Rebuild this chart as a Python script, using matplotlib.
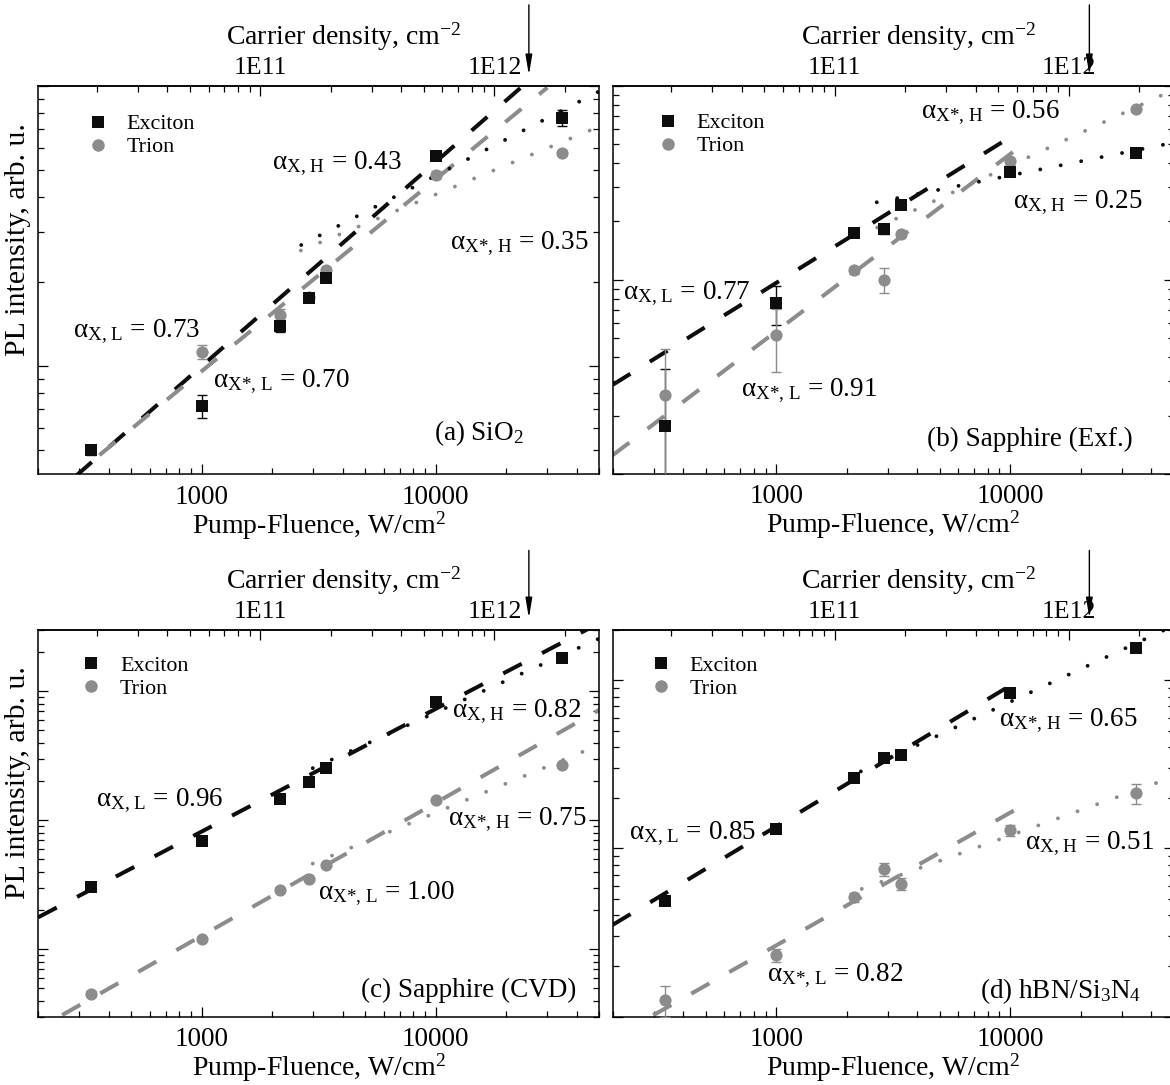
import numpy as np
import matplotlib
matplotlib.use("Agg")
import matplotlib.pyplot as plt
from matplotlib.ticker import FixedLocator, FixedFormatter, LogLocator, NullFormatter
from matplotlib.lines import Line2D

plt.rcParams.update({
    'font.family': ['Liberation Serif', 'DejaVu Serif'],
    'mathtext.fontset': 'custom',
    'mathtext.rm': 'Liberation Serif',
    'mathtext.it': 'Liberation Serif:italic',
    'mathtext.bf': 'Liberation Serif:bold',
    'lines.scale_dashes': False,
    'axes.linewidth': 1.1,
})

# ---------------- data ----------------
fluence = [335, 1000, 2150, 2880, 3400, 10000, 34500]   # W/cm^2

# (a) SiO2
a_exciton = [0.50, 0.72, 1.39, 1.74, 2.05, 5.61, 7.66]
a_exciton_err = [0.02, 0.07, 0.07, 0.05, 0.05, 0.10, 0.50]
a_trion = [np.nan, 1.12, 1.52, 1.76, 2.20, 4.80, 5.75]
a_trion_err = [0.0, 0.065, 0.07, 0.05, 0.05, 0.15, 0.15]
# fit lines: exciton low, trion low, exciton high, trion high  -> ([F0, F1], [I0, I1])
a_fits = [([290, 23600], [0.405, 10.0]),
          ([365, 30000], [0.48, 9.85]),
          ([2660, 50000], [2.70, 9.55]),
          ([2650, 50000], [2.58, 7.15])]

# (b) Sapphire (Exf.)
b_exciton = [0.176, 0.76, 1.74, 1.83, 2.42, 3.60, 4.51]
b_exciton_err = [0.17, 0.175, 0.03, 0.10, 0.05, 0.10, 0.10]
b_trion = [0.256, 0.52, 1.12, 1.00, 1.72, 4.07, 7.60]
b_trion_err = [0.185, 0.185, 0.05, 0.147, 0.05, 0.15, 0.20]
b_fits = [([200, 10860], [0.288, 5.78]),
          ([200, 10860], [0.125, 4.79]),
          ([2690, 50000], [2.51, 5.09]),
          ([2700, 50000], [1.86, 9.54])]

# (c) Sapphire (CVD)
c_exciton = [0.305, 0.69, 1.47, 1.98, 2.53, 8.20, 18.1]
c_exciton_err = [0.01, 0.02, 0.04, 0.05, 0.06, 0.2, 0.4]
c_trion = [0.0453, 0.120, 0.290, 0.349, 0.447, 1.43, 2.66]
c_trion_err = [0.002, 0.004, 0.008, 0.01, 0.012, 0.05, 0.08]
c_fits = [([200, 45000], [0.177, 30.5]),
          ([253, 50000], [0.0309, 7.16]),
          ([2980, 50000], [2.53, 25.6]),
          ([2980, 50000], [0.461, 3.83])]

# (d) hBN/Si3N4
d_exciton = [0.484, 1.31, 2.63, 3.45, 3.57, 8.44, 15.6]
d_exciton_err = [0.01, 0.03, 0.05, 0.07, 0.07, 0.2, 0.3]
d_trion = [0.126, 0.232, 0.513, 0.754, 0.619, 1.28, 2.13]
d_trion_err = [0.027, 0.02, 0.03, 0.07, 0.05, 0.10, 0.30]
d_fits = [([200, 10860], [0.3516, 9.95]),
          ([298, 10860], [0.102, 1.743]),
          ([2300, 50000], [2.87, 21.1]),
          ([2320, 50000], [0.575, 2.67])]

density_ticks = [1e11, 1e12]
density_tick_labels = ['1E11', '1E12']
fluence_ticks = [1000, 10000]
fluence_tick_labels = ['1000', '10000']
fluence_at_1e11 = 1780.0   # W/cm^2 that corresponds to 1E11 cm^-2

a_labels = [r'α$_{\mathrm{X,\,H}}$ = 0.43', r'α$_{\mathrm{X}\text{*, H}}$ = 0.35',
            r'α$_{\mathrm{X,\,L}}$ = 0.73', r'α$_{\mathrm{X}\text{*, L}}$ = 0.70']
b_labels = [r'α$_{\mathrm{X}\text{*, H}}$ = 0.56', r'α$_{\mathrm{X,\,H}}$ = 0.25',
            r'α$_{\mathrm{X,\,L}}$ = 0.77', r'α$_{\mathrm{X}\text{*, L}}$ = 0.91']
c_labels = [r'α$_{\mathrm{X,\,H}}$ = 0.82', r'α$_{\mathrm{X,\,L}}$ = 0.96',
            r'α$_{\mathrm{X}\text{*, H}}$ = 0.75', r'α$_{\mathrm{X}\text{*, L}}$ = 1.00']
d_labels = [r'α$_{\mathrm{X}\text{*, H}}$ = 0.65', r'α$_{\mathrm{X,\,L}}$ = 0.85',
            r'α$_{\mathrm{X,\,H}}$ = 0.51', r'α$_{\mathrm{X}\text{*, L}}$ = 0.82']
panel_names = ['(a) SiO$_2$', '(b) Sapphire (Exf.)', '(c) Sapphire (CVD)',
               '(d) hBN/Si$_3$N$_4$']
arrow_fluence = [25000, 21800, 25000, 21800]

# ---------------- figure ----------------
W, H = 1170, 1085
fig = plt.figure(figsize=(W / 100, H / 100), dpi=100)
BLACK = '#0d0d0d'
GREY = '#8c8c8c'
FS = 19.5


def add_axes_px(l, t, w, h):
    return fig.add_axes([l / W, 1 - (t + h) / H, w / W, h / H])


def f2n(F):
    return np.asarray(F, dtype=float) * (1e11 / fluence_at_1e11)


def n2f(n):
    return np.asarray(n, dtype=float) * (fluence_at_1e11 / 1e11)


def draw_panel(rect, ylim, ex, ex_err, tr, tr_err, fits, labels, label_pos,
               name, name_pos, leg_anchor, arrow_F, arrow_y, ylabel):
    ax = add_axes_px(*rect)
    ax.set_xscale('log')
    ax.set_yscale('log')
    ax.set_xlim(200, 50000)
    ax.set_ylim(*ylim)

    styles = [dict(color=BLACK, lw=2.9, ls=(0, (15, 16.5)), dash_capstyle='butt'),
              dict(color=GREY, lw=2.9, ls=(0, (15, 16.5)), dash_capstyle='butt'),
              dict(color=BLACK, lw=2.8, ls=(0, (0.01, 15)), dash_capstyle='round'),
              dict(color=GREY, lw=2.8, ls=(0, (0.01, 15)), dash_capstyle='round')]
    for (fx, fy), st in zip(fits, styles):
        ax.plot(fx, fy, zorder=2, **st)

    ax.errorbar(fluence, ex, yerr=ex_err, fmt='none', ecolor=BLACK,
                elinewidth=1.0, capsize=3.5, capthick=1.0, zorder=3)
    ax.errorbar(fluence, tr, yerr=tr_err, fmt='none', ecolor=GREY,
                elinewidth=1.0, capsize=3.5, capthick=1.0, zorder=3.5)
    ax.plot(fluence, tr, 'o', color=GREY, ms=8.8, mew=0, zorder=4)
    ax.plot(fluence, ex, 's', color=BLACK, ms=8.0, mew=0, zorder=5)

    # ticks
    ax.xaxis.set_major_locator(FixedLocator(fluence_ticks))
    ax.xaxis.set_major_formatter(FixedFormatter(fluence_tick_labels))
    ax.xaxis.set_minor_locator(LogLocator(base=10, subs=np.arange(2, 10), numticks=20))
    ax.xaxis.set_minor_formatter(NullFormatter())
    ax.yaxis.set_major_locator(LogLocator(base=10, numticks=20))
    ax.yaxis.set_minor_locator(LogLocator(base=10, subs=np.arange(2, 10), numticks=20))
    ax.yaxis.set_major_formatter(NullFormatter())
    ax.yaxis.set_minor_formatter(NullFormatter())
    ax.tick_params(which='both', direction='in', top=False, right=True,
                   left=True, bottom=True, width=0.9, labelsize=FS, pad=7.5)
    ax.tick_params(which='major', length=7)
    ax.tick_params(which='minor', length=4.5)

    ax.set_xlabel('Pump-Fluence, W/cm$^2$', fontsize=FS + 0.5)
    ax.xaxis.set_label_coords(0.5, -51 / rect[3])
    ax.xaxis.label.set_va('center')

    if ylabel:
        ax.set_ylabel('PL intensity, arb. u.', fontsize=FS + 2)
        ax.yaxis.set_label_coords(-0.0357, 0.605)
        ax.yaxis.label.set_va('center')

    sec = ax.secondary_xaxis('top', functions=(f2n, n2f))
    sec.xaxis.set_major_locator(FixedLocator(density_ticks))
    sec.xaxis.set_major_formatter(FixedFormatter(density_tick_labels))
    sec.xaxis.set_minor_locator(LogLocator(base=10, subs=np.arange(2, 10), numticks=20))
    sec.xaxis.set_minor_formatter(NullFormatter())
    sec.tick_params(which='both', direction='in', width=0.9, labelsize=18.5, pad=4.5)
    sec.tick_params(which='major', length=7)
    sec.tick_params(which='minor', length=4.5)
    sec.set_xlabel('Carrier density, cm$^{-2}$', fontsize=FS + 0.5)
    sec.xaxis.set_label_coords(0.5 + 25 / rect[2], 1 + 49 / rect[3], transform=ax.transAxes)
    sec.xaxis.label.set_va('center')

    for s, (px, py) in zip(labels, label_pos):
        ax.text(px, py, s, transform=ax.transAxes, ha='left', va='baseline',
                fontsize=FS, zorder=6)
    ax.text(name_pos[0], name_pos[1], name, transform=ax.transAxes,
            ha='right', va='baseline', fontsize=FS, zorder=6)

    handles = [Line2D([], [], marker='s', ls='none', color=BLACK, ms=8.2, mew=0),
               Line2D([], [], marker='o', ls='none', color=GREY, ms=9.0, mew=0)]
    ax.legend(handles, ['Exciton', 'Trion'], loc='upper left', bbox_to_anchor=leg_anchor,
              frameon=False, fontsize=15.8, handlelength=1.0, handletextpad=0.8,
              borderpad=0, borderaxespad=0, labelspacing=0.12)

    ax.annotate('', xy=(arrow_F, arrow_y[0]), xycoords=('data', 'axes fraction'),
                xytext=(arrow_F, arrow_y[1]), textcoords=('data', 'axes fraction'),
                arrowprops=dict(arrowstyle='-|>,head_length=0.6,head_width=0.1',
                                lw=1.0, color='black', shrinkA=0, shrinkB=0,
                                mutation_scale=20),
                annotation_clip=False)
    return ax


draw_panel((38.3, 85.7, 561, 388.6), (0.41, 10.0), a_exciton, a_exciton_err, a_trion,
           a_trion_err, a_fits, a_labels,
           [(0.4166, 0.7856), (0.7335, 0.579), (0.0619, 0.3527), (0.3121, 0.2244)],
           panel_names[0], (0.865, 0.087), (0.087, 0.927), arrow_fluence[0],
           (1.0275, 1.208), True)
draw_panel((612.7, 85.7, 561, 388.3), (0.1, 10.0), b_exciton, b_exciton_err, b_trion,
           b_trion_err, b_fits, b_labels,
           [(0.5497, 0.9155), (0.7134, 0.6845), (0.0177, 0.4489), (0.2287, 0.1998)],
           panel_names[1], (0.9275, 0.071), (0.079, 0.930), arrow_fluence[1],
           (1.0275, 1.208), False)
draw_panel((38.3, 629.6, 561, 387.1), (0.03, 30.0), c_exciton, c_exciton_err, c_trion,
           c_trion_err, c_fits, c_labels,
           [(0.7367, 0.7737), (0.1023, 0.5448), (0.730, 0.4955), (0.4979, 0.3025)],
           panel_names[2], (0.9597, 0.0511), (0.075, 0.934), arrow_fluence[2],
           (1.0297, 1.2046), True)
draw_panel((612.7, 629.6, 561, 387.1), (0.1, 20.0), d_exciton, d_exciton_err, d_trion,
           d_trion_err, d_fits, d_labels,
           [(0.6882, 0.7515), (0.0287, 0.4596), (0.7344, 0.4327), (0.2747, 0.0917)],
           panel_names[3], (0.942, 0.0468), (0.066, 0.934), arrow_fluence[3],
           (1.0297, 1.2046), False)

fig.savefig('out.png', dpi=100)
